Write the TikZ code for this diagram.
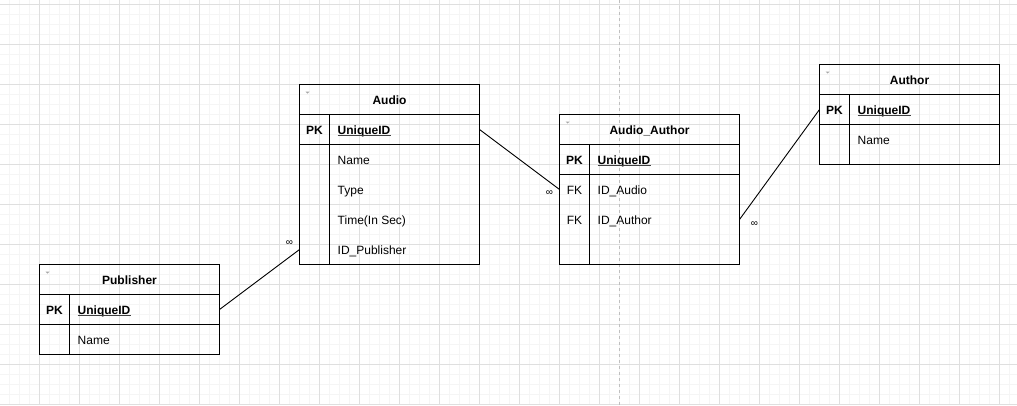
\documentclass[tikz,border=0pt]{standalone}
\usepackage{fontspec}
\setmainfont{Liberation Sans}
\begin{document}
\begin{tikzpicture}[x=1pt,y=-1pt,
  minorgrid/.style={draw=gray!8, line width=1pt},
  majorgrid/.style={draw=gray!25, line width=1pt},
  pagebreak/.style={draw=gray!50, line width=1pt, dash pattern=on 3pt off 3pt},
  box/.style={draw=black, line width=1pt, inner sep=0pt, outer sep=0pt, anchor=north west, minimum width=180pt},
  divider/.style={draw=black, line width=1pt},
  ttext/.style={font=\fontsize{12}{14}\selectfont\bfseries, text height=9pt, text depth=0pt, inner sep=0pt, anchor=center},
  keytext/.style={font=\fontsize{12}{14}\selectfont, text height=9pt, text depth=0pt, inner sep=0pt, anchor=center},
  pktext/.style={keytext, font=\fontsize{12}{14}\selectfont\bfseries},
  field/.style={font=\fontsize{12}{14}\selectfont, text height=9pt, text depth=0pt, inner sep=0pt, anchor=west},
  uid/.style={field, font=\fontsize{12}{14}\selectfont\bfseries},
  uline/.style={draw=black!75, line width=0.9pt},
  collapse/.style={fill=gray!70, draw=none},
  rel/.style={draw=black, line width=0.9pt},
  inf/.style={font=\fontsize{10}{12}\selectfont, inner sep=0pt}
]
% background and bounding box
\fill[white] (0,0) rectangle (1017,405);
\useasboundingbox (0,0) rectangle (1017,405);
% grid
\foreach \x in {9.5,19.5,...,1017}{\draw[minorgrid] (\x,0) -- (\x,405);}
\foreach \y in {14.5,24.5,...,405}{\draw[minorgrid] (0,\y) -- (1017,\y);}
\foreach \x in {39.5,79.5,...,1017}{\draw[majorgrid] (\x,0) -- (\x,405);}
\foreach \y in {4.5,44.5,...,405}{\draw[majorgrid] (0,\y) -- (1017,\y);}
% page break
\draw[pagebreak] (619.5,0) -- (619.5,405);

% ===== Audio =====
\node[box, minimum height=30pt] (audio-t) at (299.5,84.5) {};
\node[box, minimum height=30pt] (audio-pk) at (299.5,114.5) {};
\node[box, minimum height=120pt] (audio-body) at (299.5,144.5) {};
\draw[divider] (audio-pk.north west) ++(30,0) -- ++(0,150);
\fill[collapse] (305.5,91.5) -- (309.5,91.5) -- (307.5,93.5) -- cycle;
\node[ttext] (audio-title) at (389.5,99.5) {Audio};
\node[pktext] (audio-pkl) at (314.5,129.5) {PK};
\node[uid] (audio-uid) at (337.5,129.5) {UniqueID};
\draw[uline] ([yshift=-5.5pt]audio-uid.west) -- ([yshift=-5.5pt]audio-uid.east);
\node[field] (audio-name) at (337.5,159.5) {Name};
\node[field] (audio-type) at (337.5,189.5) {Type};
\node[field] (audio-time) at (337.5,219.5) {Time(In Sec)};
\node[field] (audio-idpub) at (337.5,249.5) {ID\_Publisher};

% ===== Audio_Author =====
\node[box, minimum height=30pt] (aa-t) at (559.5,114.5) {};
\node[box, minimum height=30pt] (aa-pk) at (559.5,144.5) {};
\node[box, minimum height=90pt] (aa-body) at (559.5,174.5) {};
\draw[divider] (aa-pk.north west) ++(30,0) -- ++(0,120);
\fill[collapse] (565.5,121.5) -- (569.5,121.5) -- (567.5,123.5) -- cycle;
\node[ttext] (aa-title) at (649.5,129.5) {Audio\_Author};
\node[pktext] (aa-pkl) at (574.5,159.5) {PK};
\node[uid] (aa-uid) at (597.5,159.5) {UniqueID};
\draw[uline] ([yshift=-5.5pt]aa-uid.west) -- ([yshift=-5.5pt]aa-uid.east);
\node[keytext] (aa-fk1) at (574.5,189.5) {FK};
\node[field] (aa-idaudio) at (597.5,189.5) {ID\_Audio};
\node[keytext] (aa-fk2) at (574.5,219.5) {FK};
\node[field] (aa-idauthor) at (597.5,219.5) {ID\_Author};

% ===== Author =====
\node[box, minimum height=30pt] (au-t) at (819.5,64.5) {};
\node[box, minimum height=30pt] (au-pk) at (819.5,94.5) {};
\node[box, minimum height=40pt] (au-body) at (819.5,124.5) {};
\draw[divider] (au-pk.north west) ++(30,0) -- ++(0,70);
\fill[collapse] (825.5,71.5) -- (829.5,71.5) -- (827.5,73.5) -- cycle;
\node[ttext] (au-title) at (909.5,79.5) {Author};
\node[pktext] (au-pkl) at (834.5,109.5) {PK};
\node[uid] (au-uid) at (857.5,109.5) {UniqueID};
\draw[uline] ([yshift=-5.5pt]au-uid.west) -- ([yshift=-5.5pt]au-uid.east);
\node[field] (au-name) at (857.5,139.5) {Name};

% ===== Publisher =====
\node[box, minimum height=30pt] (pub-t) at (39.5,264.5) {};
\node[box, minimum height=30pt] (pub-pk) at (39.5,294.5) {};
\node[box, minimum height=30pt] (pub-body) at (39.5,324.5) {};
\draw[divider] (pub-pk.north west) ++(30,0) -- ++(0,60);
\fill[collapse] (45.5,271.5) -- (49.5,271.5) -- (47.5,273.5) -- cycle;
\node[ttext] (pub-title) at (129.5,279.5) {Publisher};
\node[pktext] (pub-pkl) at (54.5,309.5) {PK};
\node[uid] (pub-uid) at (77.5,309.5) {UniqueID};
\draw[uline] ([yshift=-5.5pt]pub-uid.west) -- ([yshift=-5.5pt]pub-uid.east);
\node[field] (pub-name) at (77.5,339.5) {Name};

% ===== relations =====
\draw[rel] (pub-pk.east) -- (audio-body.west |- audio-idpub.west)
  node[inf, at end, xshift=-10pt, yshift=6pt] {∞};
\draw[rel] (audio-pk.east) -- (aa-body.west |- aa-idaudio.west)
  node[inf, at end, xshift=-10pt, yshift=-4pt] {∞};
\draw[rel] (aa-body.east |- aa-idauthor.west) -- (au-pk.west)
  node[inf, at start, xshift=15pt, yshift=-4.5pt] {∞};
\end{tikzpicture}
\end{document}
